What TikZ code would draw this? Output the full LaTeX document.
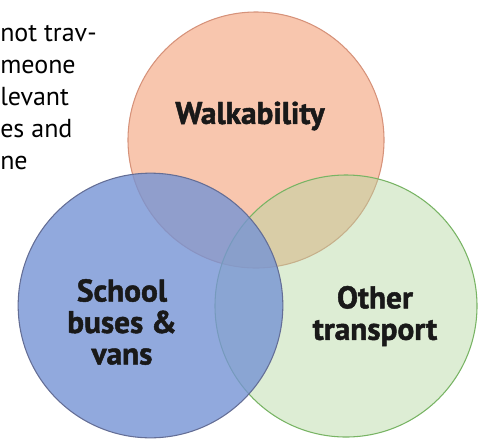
\documentclass[tikz,border=0pt]{standalone}
\usepackage{fontspec}
\setmainfont{PT Sans}
\newfontfamily\lblfont[BoldFeatures={FakeBold=1.5}]{PT Sans}
\definecolor{walkfill}{RGB}{248,198,174}
\definecolor{walkline}{RGB}{214,146,122}
\definecolor{busfill}{RGB}{118,148,212}
\definecolor{busline}{RGB}{100,110,150}
\definecolor{otherfill}{RGB}{180,214,160}
\definecolor{otherline}{RGB}{120,180,100}
\tikzset{
  venn/.style={circle, draw, line width=0.8pt, inner sep=0pt},
  lbl/.style={font=\lblfont\bfseries\fontsize{23.5}{23.6}\selectfont, align=center, text=black!90},
}
\begin{document}
\begin{tikzpicture}[x=0.75pt,y=-0.75pt]
\useasboundingbox (0,0) rectangle (478,440);
\node[venn, draw=walkline, fill=walkfill, minimum size=192pt] (walk) at (256,140) {};
\node[venn, draw=otherline, fill=otherfill, fill opacity=0.45, minimum size=196.5pt] (other) at (346,306) {};
\node[venn, draw=busline, fill=busfill, fill opacity=0.8, minimum size=198.5pt] (bus) at (150.5,305.5) {};
% labels
\node[lbl] (walklbl) at (250,116) {Walkability};
\node[lbl] (buslbl) at (122,322) {School\\buses \&\\vans};
\node[lbl] (otherlbl) at (375,316) {Other\\transport};
% cut-off text at top left
\node[anchor=north west, align=left, inner sep=0pt, font=\fontsize{19.5}{24}\selectfont] (para) at (0,25) {not trav-\\meone\\levant\\es and\\ne};
\end{tikzpicture}
\end{document}
